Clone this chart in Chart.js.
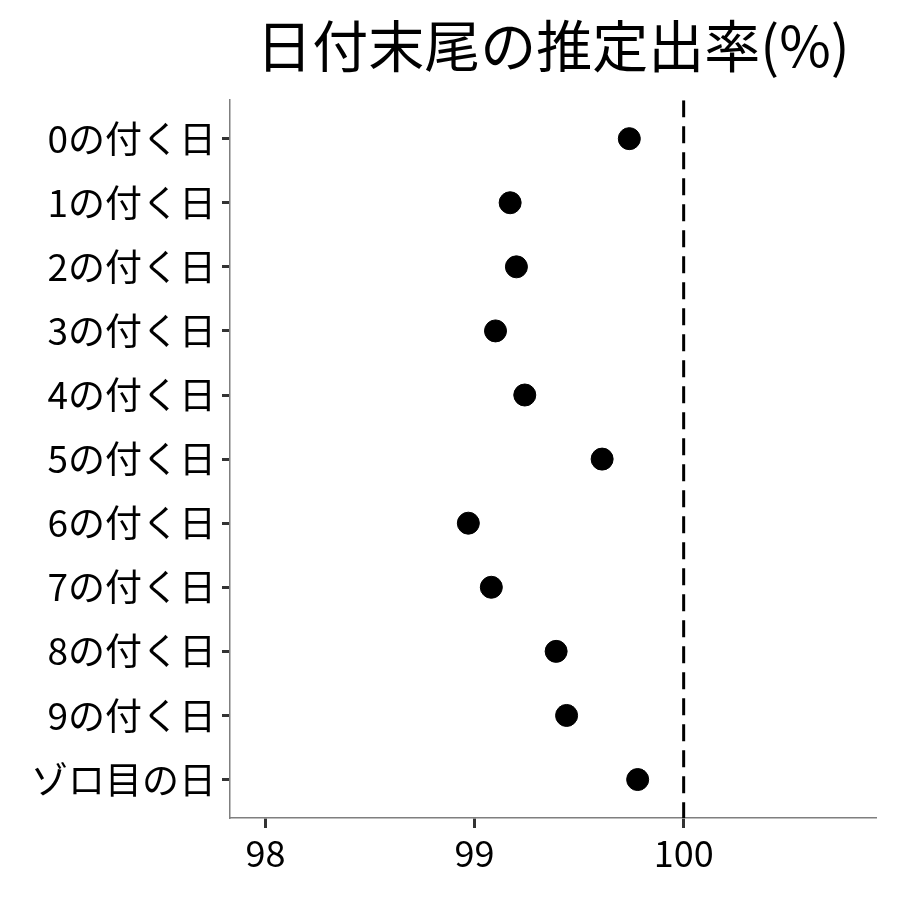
<!DOCTYPE html>
<html>
<head>
<meta charset="utf-8">
<script src="https://cdn.jsdelivr.net/npm/chart.js@4.4.1/dist/chart.umd.min.js"></script>
<style>
  html, body { margin: 0; padding: 0; background: #fff; }
  #wrap { width: 900px; height: 900px; }
</style>
</head>
<body>
<div id="wrap"><canvas id="dot-chart" width="900" height="900"></canvas></div>
<script>
// categories (top to bottom) and estimated rates
const categories = ['0の付く日', '1の付く日', '2の付く日', '3の付く日', '4の付く日',
	'5の付く日', '6の付く日', '7の付く日', '8の付く日', '9の付く日', 'ゾロ目の日'];
const rates = [99.74, 99.17, 99.20, 99.10, 99.24, 99.61, 98.97, 99.08, 99.39, 99.44, 99.78];
const xTicks = [98, 99, 100];
const refValue = 100;
const xMin = 97.83;
const xMax = 100.92;

const fontFamily = '"Noto Sans CJK JP", "Noto Sans", sans-serif';

let points = [];
for (let i = 0; i < categories.length; i++) {
	points.push({x: rates[i], y: i});
}

var ctx = document.getElementById('dot-chart').getContext('2d');

var chart = new Chart(ctx, {
	type: 'scatter',
	data: {
		datasets: [{
			label: '推定出率',
			data: points,
			backgroundColor: '#000',
			borderColor: '#000',
			pointRadius: 11,
			pointHoverRadius: 11
		}, {
			type: 'line',
			label: '100%',
			data: [{x: refValue, y: -0.6}, {x: refValue, y: categories.length - 0.4}],
			borderColor: '#000',
			borderWidth: 3,
			borderDash: [17, 9],
			pointRadius: 0,
			fill: false
		}]
	},
	options: {
		responsive: false,
		animation: false,
		layout: { padding: { left: 0, right: 24, top: 0, bottom: 0 } },
		plugins: {
			legend: { display: false },
			tooltip: { enabled: false },
			title: {
				display: true,
				text: '日付末尾の推定出率(%)',
				fullSize: false,
				color: '#000',
				font: { family: fontFamily, size: 56, weight: 'normal' },
				padding: { top: 12, bottom: 21 }
			}
		},
		scales: {
			x: {
				type: 'linear',
				min: xMin,
				max: xMax,
				afterBuildTicks: (axis) => { axis.ticks = xTicks.map(v => ({value: v})); },
				afterFit: (axis) => { axis.height = 82; },
				border: { display: true, color: '#7f7f7f', width: 1.5 },
				grid: { drawOnChartArea: false, drawTicks: true, tickLength: 10, tickWidth: 3, tickColor: '#333' },
				ticks: { color: '#000', font: { family: fontFamily, size: 36 }, padding: 4 }
			},
			y: {
				type: 'linear',
				reverse: true,
				min: -0.6,
				max: categories.length - 0.4,
				afterBuildTicks: (axis) => { axis.ticks = categories.map((c, i) => ({value: i})); },
				afterFit: (axis) => { axis.width = 230; },
				border: { display: true, color: '#7f7f7f', width: 1.5 },
				grid: { drawOnChartArea: false, drawTicks: true, tickLength: 8, tickWidth: 3, tickColor: '#333' },
				ticks: {
					color: '#000',
					font: { family: fontFamily, size: 37 },
					padding: 6,
					autoSkip: false,
					callback: (v) => categories[v]
				}
			}
		}
	}
});
</script>
</body>
</html>
